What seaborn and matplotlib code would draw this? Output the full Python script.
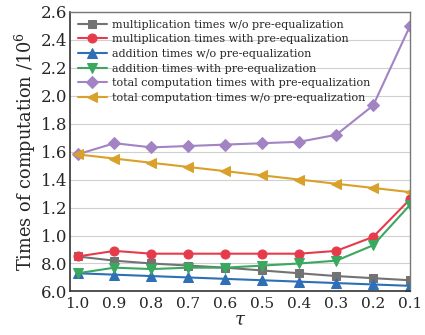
import pandas as pd
import matplotlib
matplotlib.use('Agg')
import matplotlib.pyplot as plt
import seaborn as sns

# data (values in 10^6)
tau = [1.0, 0.9, 0.8, 0.7, 0.6, 0.5, 0.4, 0.3, 0.2, 0.1]
mult_wo = [0.85, 0.82, 0.80, 0.785, 0.77, 0.75, 0.73, 0.71, 0.695, 0.68]
mult_with = [0.85, 0.89, 0.87, 0.87, 0.87, 0.87, 0.87, 0.89, 0.99, 1.26]
add_wo = [0.73, 0.72, 0.71, 0.70, 0.69, 0.68, 0.67, 0.66, 0.65, 0.64]
add_with = [0.73, 0.77, 0.76, 0.77, 0.77, 0.785, 0.80, 0.82, 0.93, 1.22]
total_with = [1.58, 1.66, 1.63, 1.64, 1.65, 1.66, 1.67, 1.72, 1.93, 2.50]
total_wo = [1.58, 1.55, 1.52, 1.49, 1.46, 1.43, 1.40, 1.37, 1.34, 1.31]

labels = ['multiplication times w/o pre-equalization',
          'multiplication times with pre-equalization',
          'addition times w/o pre-equalization',
          'addition times with pre-equalization',
          'total computation times with pre-equalization',
          'total computation times w/o pre-equalization']
series = [mult_wo, mult_with, add_wo, add_with, total_with, total_wo]
colors = ['#737373', '#e63b4b', '#2e6fb6', '#3aa85e', '#a283c3', '#d9a02a']
markers = ['s', 'o', '^', 'v', 'D', '<']
msizes = [6, 6.5, 6.5, 6.5, 6, 6.5]

y_ticks = [0.6, 0.8, 1.0, 1.2, 1.4, 1.6, 1.8, 2.0, 2.2, 2.4, 2.6]
y_ticklabels = ['6.0', '8.0', '1.0', '1.2', '1.4', '1.6', '1.8', '2.0', '2.2', '2.4', '2.6']

sns.set_style('whitegrid')
plt.rcParams['font.family'] = ['DejaVu Serif']
plt.rcParams['mathtext.fontset'] = 'dejavuserif'

fig, ax = plt.subplots(figsize=(4.25, 3.35), dpi=100)

for vals, lab, c, m, ms in zip(series, labels, colors, markers, msizes):
    df = pd.DataFrame({'tau': tau, 'val': vals})
    sns.lineplot(data=df, x='tau', y='val', ax=ax, color=c, marker=m,
                 markersize=ms, markeredgecolor=c, linewidth=1.5, label=lab)

ax.set_xlim(1.02, 0.1)
ax.set_ylim(0.6, 2.6)
ax.set_xticks(tau)
ax.set_xticklabels([f'{t:.1f}' for t in tau])
ax.set_yticks(y_ticks)
ax.set_yticklabels(y_ticklabels)
ax.grid(axis='x', visible=False)
ax.grid(axis='y', color='#d0d0d0', linewidth=0.8)

ax.tick_params(axis='x', direction='in', length=3.5, width=1, color='#333333',
               labelsize=11, pad=4)
ax.tick_params(axis='y', length=0, labelsize=12, pad=2)
for s in ['left', 'bottom']:
    ax.spines[s].set_color('#333333')
    ax.spines[s].set_linewidth(1.2)
for s in ['top', 'right']:
    ax.spines[s].set_color('#777777')
    ax.spines[s].set_linewidth(1.0)

ax.set_xlabel(r'$\tau$', fontsize=13, labelpad=0)
ax.set_ylabel(r'Times of computation /10$^6$', fontsize=12.8, labelpad=2)

ax.legend(loc='upper left', frameon=False, fontsize=8, handlelength=2.6,
          handletextpad=0.45, labelspacing=0.42, borderaxespad=0.4,
          borderpad=0.3)

plt.subplots_adjust(left=0.165, right=0.965, bottom=0.13, top=0.965)
plt.savefig('out.png', dpi=100)
